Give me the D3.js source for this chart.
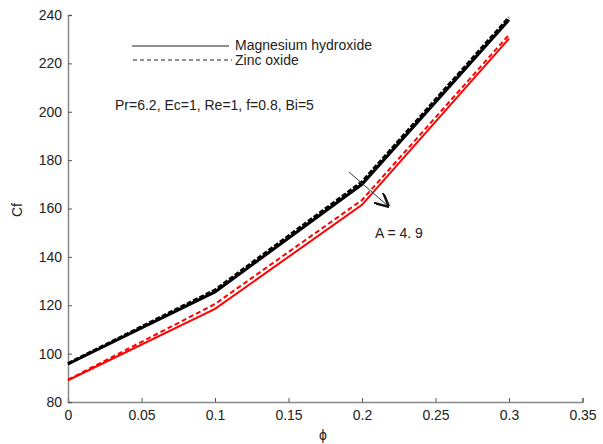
<!DOCTYPE html>
<html><head><meta charset="utf-8">
<script src="https://cdn.jsdelivr.net/npm/d3@7"></script>
<style>body{margin:0;background:#fff}svg{display:block}text{font-family:"Liberation Sans",Arial,sans-serif;fill:#222}</style>
</head><body><svg id="c" width="603" height="444"></svg>
<script>
const phi = [0, 0.1, 0.2, 0.3];
const mgLow = [95.7, 125.5, 170.0, 238.0];
const znLow = [95.9, 126.3, 171.0, 239.0];
const mgHigh = [89.0, 118.5, 161.5, 230.2];
const znHigh = [89.2, 120.5, 163.5, 231.8];
const xTicks = [0, 0.05, 0.1, 0.15, 0.2, 0.25, 0.3, 0.35];
const yTicks = [80, 100, 120, 140, 160, 180, 200, 220, 240];

const svg = d3.select("#c");
const x = d3.scaleLinear().domain([0, 0.35]).range([68, 582.5]);
const y = d3.scaleLinear().domain([80, 240]).range([402, 15]);

const axisColor = "#888";
const xa = svg.append("g").attr("transform", `translate(0,${y(80)})`)
  .call(d3.axisBottom(x).tickValues(xTicks).tickSize(-4).tickPadding(8).tickFormat(d => d3.format("")(d)));
const ya = svg.append("g").attr("transform", `translate(${x(0)},0)`)
  .call(d3.axisLeft(y).tickValues(yTicks).tickSize(-4).tickPadding(6));
[xa, ya].forEach(g => {
  g.select(".domain").attr("stroke", axisColor).attr("stroke-width", 1.5);
  g.selectAll(".tick line").attr("stroke", "#555").attr("stroke-width", 1);
  g.selectAll(".tick text").attr("font-size", 14).attr("fill", "#222").attr("font-family", "Liberation Sans, Arial, sans-serif");
});

const line = d3.line().x((d, i) => x(phi[i])).y(d => y(d));
const series = [
  {v: mgHigh, c: "red", w: 2, dash: null},
  {v: znHigh, c: "red", w: 2, dash: "5,3"},
  {v: mgLow, c: "black", w: 3, dash: null},
  {v: znLow, c: "black", w: 3, dash: "5,2"}
];
series.forEach(s => {
  svg.append("path").datum(s.v).attr("d", line).attr("fill", "none")
    .attr("stroke", s.c).attr("stroke-width", s.w).attr("stroke-dasharray", s.dash);
});

// legend
svg.append("line").attr("x1", 132).attr("x2", 229).attr("y1", 46).attr("y2", 46).attr("stroke", "#222").attr("stroke-width", 1);
svg.append("text").attr("x", 235).attr("y", 50).attr("font-size", 14).text("Magnesium hydroxide");
svg.append("line").attr("x1", 133).attr("x2", 232).attr("y1", 60).attr("y2", 60).attr("stroke", "#222").attr("stroke-width", 1).attr("stroke-dasharray", "4,3");
svg.append("text").attr("x", 235).attr("y", 65).attr("font-size", 14).text("Zinc oxide");

svg.append("text").attr("x", 115).attr("y", 110).attr("font-size", 14).text("Pr=6.2, Ec=1, Re=1, f=0.8, Bi=5");

// arrow
svg.append("defs").append("marker").attr("id", "ah").attr("viewBox", "0 0 10 10").attr("refX", 9).attr("refY", 5)
  .attr("markerWidth", 14).attr("markerHeight", 14).attr("markerUnits", "userSpaceOnUse").attr("orient", "auto")
  .append("path").attr("d", "M0,0 L10,5 L0,10").attr("fill", "none").attr("stroke", "#111").attr("stroke-width", 1.8);
svg.append("line").attr("x1", 349).attr("y1", 172).attr("x2", 388).attr("y2", 206).attr("stroke", "#333").attr("stroke-width", 1).attr("marker-end", "url(#ah)");
svg.append("text").attr("x", 375).attr("y", 238).attr("font-size", 14).text("A = 4. 9");

// axis labels
svg.append("text").attr("x", 323).attr("y", 440).attr("text-anchor", "middle").attr("font-size", 14).text("ϕ");
svg.append("text").attr("transform", "translate(22,210) rotate(-90)").attr("text-anchor", "middle").attr("font-size", 14).text("Cf");
</script></body></html>
